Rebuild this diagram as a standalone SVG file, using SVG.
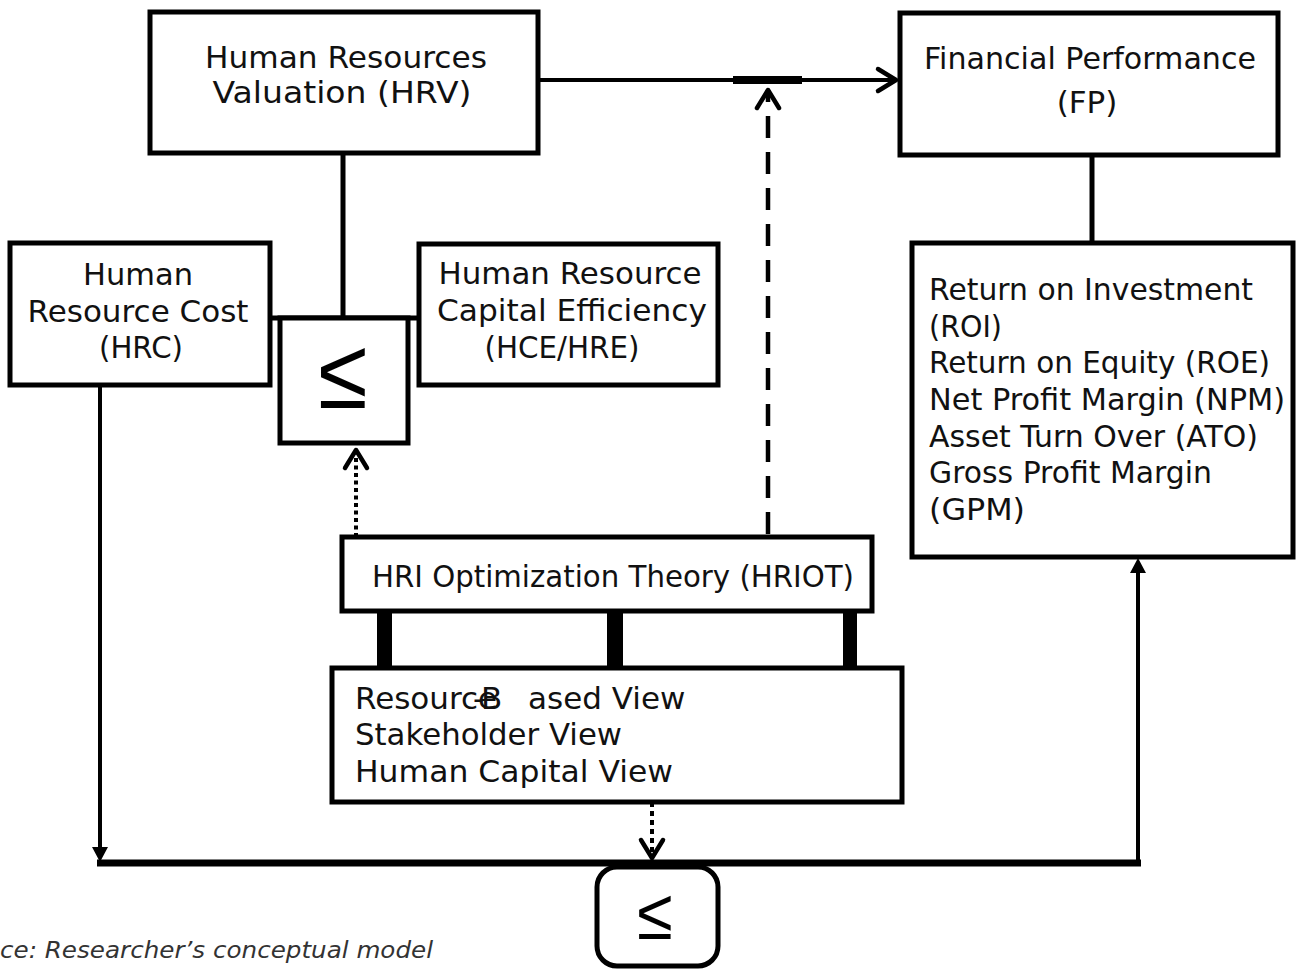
<svg xmlns="http://www.w3.org/2000/svg" width="1296" height="970" viewBox="0 0 1296 970">
<style>
.box{fill:#fff;stroke:#000;stroke-width:5}
.t{font-family:"DejaVu Sans",sans-serif;font-size:31px;fill:#111}
.c{text-anchor:middle}
.sym{font-family:"Liberation Sans",Arial,sans-serif;fill:#000;text-anchor:middle}
.ln{stroke:#000;fill:none}
.cap{font-family:"DejaVu Sans",sans-serif;font-size:23px;font-style:italic;fill:#333}
</style>
<defs>
<marker id="chev" markerUnits="userSpaceOnUse" viewBox="-24 -16 30 32" markerWidth="30" markerHeight="32" refX="0" refY="0" orient="auto">
<path d="M-18,-11 L0,0 L-18,11" fill="none" stroke="#000" stroke-width="4.5" stroke-linecap="round" stroke-linejoin="round"/>
</marker>
<marker id="tri" markerUnits="userSpaceOnUse" viewBox="-16 -10 26 20" markerWidth="26" markerHeight="20" refX="-9" refY="0" orient="auto">
<path d="M-15,-8 L0,0 L-15,8 Z" fill="#000"/>
</marker>
</defs>
<rect width="1296" height="970" fill="#fff"/>

<g id="connectors">
<line class="ln" x1="540" y1="80" x2="896" y2="80" stroke-width="4" marker-end="url(#chev)"/>
<line class="ln" x1="733" y1="80" x2="802" y2="80" stroke-width="8"/>
<line class="ln" x1="343" y1="153" x2="343" y2="318" stroke-width="5"/>
<line class="ln" x1="270" y1="318" x2="419" y2="318" stroke-width="5"/>
<path class="ln" d="M768,537 L768,90" stroke-width="4.5" stroke-dasharray="22 14" stroke-dashoffset="-3" marker-end="url(#chev)"/>
<path class="ln" d="M356,537 L356,450" stroke-width="4" stroke-dasharray="4 3.5" marker-end="url(#chev)"/>
<line class="ln" x1="1092" y1="155" x2="1092" y2="243" stroke-width="5"/>
<line class="ln" x1="100" y1="385" x2="100" y2="853" stroke-width="4" marker-end="url(#tri)"/>
<line class="ln" x1="97" y1="863" x2="1141" y2="863" stroke-width="7"/>
<line class="ln" x1="1138" y1="863" x2="1138" y2="567" stroke-width="4" marker-end="url(#tri)"/>
<rect x="377" y="611" width="15" height="57" fill="#000"/>
<rect x="607" y="611" width="16" height="57" fill="#000"/>
<rect x="843" y="611" width="14" height="57" fill="#000"/>
<path class="ln" d="M652,802 L652,858" stroke-width="4" stroke-dasharray="5 4" marker-end="url(#chev)"/>
</g>

<g id="hrv">
<rect class="box" x="150" y="12" width="388" height="141"/>
<text class="t c" x="346" y="68" textLength="282" lengthAdjust="spacingAndGlyphs">Human Resources</text>
<text class="t c" x="342" y="103" textLength="259" lengthAdjust="spacingAndGlyphs">Valuation (HRV)</text>
</g>

<g id="fp">
<rect class="box" x="900" y="13" width="378" height="142"/>
<text class="t c" x="1090" y="69" textLength="332" lengthAdjust="spacingAndGlyphs">Financial Performance</text>
<text class="t c" x="1087" y="113">(FP)</text>
</g>

<g id="hrc">
<rect class="box" x="10" y="243" width="260" height="142"/>
<text class="t c" x="138" y="285" textLength="110" lengthAdjust="spacingAndGlyphs">Human</text>
<text class="t c" x="138" y="322" textLength="221" lengthAdjust="spacingAndGlyphs">Resource Cost</text>
<text class="t c" x="141" y="358" textLength="84" lengthAdjust="spacingAndGlyphs">(HRC)</text>
</g>

<g id="leq-top">
<rect class="box" x="280" y="318" width="128" height="125" stroke-width="4"/>
<text class="sym" transform="translate(343,408) scale(0.9,1)" x="0" y="0" font-size="100">≤</text>
</g>

<g id="hce">
<rect class="box" x="419" y="244" width="299" height="141"/>
<text class="t c" x="570" y="284" textLength="263" lengthAdjust="spacingAndGlyphs">Human Resource</text>
<text class="t c" x="572" y="321" textLength="270" lengthAdjust="spacingAndGlyphs">Capital Efficiency</text>
<text class="t c" x="562" y="358" textLength="155" lengthAdjust="spacingAndGlyphs">(HCE/HRE)</text>
</g>

<g id="ratios">
<rect class="box" x="912" y="243" width="381" height="314"/>
<text class="t" x="929" y="300" textLength="324" lengthAdjust="spacingAndGlyphs">Return on Investment</text>
<text class="t" x="929" y="337" textLength="73" lengthAdjust="spacingAndGlyphs">(ROI)</text>
<text class="t" x="929" y="373" textLength="341" lengthAdjust="spacingAndGlyphs">Return on Equity (ROE)</text>
<text class="t" x="929" y="410" textLength="356" lengthAdjust="spacingAndGlyphs">Net Profit Margin (NPM)</text>
<text class="t" x="929" y="447" textLength="329" lengthAdjust="spacingAndGlyphs">Asset Turn Over (ATO)</text>
<text class="t" x="929" y="483" textLength="283" lengthAdjust="spacingAndGlyphs">Gross Profit Margin</text>
<text class="t" x="929" y="520" textLength="96" lengthAdjust="spacingAndGlyphs">(GPM)</text>
</g>

<g id="hriot">
<rect class="box" x="342" y="537" width="530" height="74"/>
<text class="t" x="372" y="587" textLength="482" lengthAdjust="spacingAndGlyphs">HRI Optimization Theory (HRIOT)</text>
</g>

<g id="views">
<rect class="box" x="332" y="668" width="570" height="134"/>
<text class="t" y="709"><tspan x="355">Resource</tspan><tspan x="473">-</tspan><tspan x="481">B</tspan><tspan x="528">ased View</tspan></text>
<text class="t" x="355" y="745" textLength="267" lengthAdjust="spacingAndGlyphs">Stakeholder View</text>
<text class="t" x="355" y="782" textLength="318" lengthAdjust="spacingAndGlyphs">Human Capital View</text>
</g>

<g id="leq-bottom">
<rect class="box" x="597" y="867" width="121" height="99" rx="20" ry="20" stroke-width="4"/>
<text class="sym" transform="translate(655,939) scale(0.9,1)" x="0" y="0" font-size="72">≤</text>
</g>

<text class="cap" x="0" y="958" textLength="433" lengthAdjust="spacingAndGlyphs">ce: Researcher’s conceptual model</text>
</svg>
